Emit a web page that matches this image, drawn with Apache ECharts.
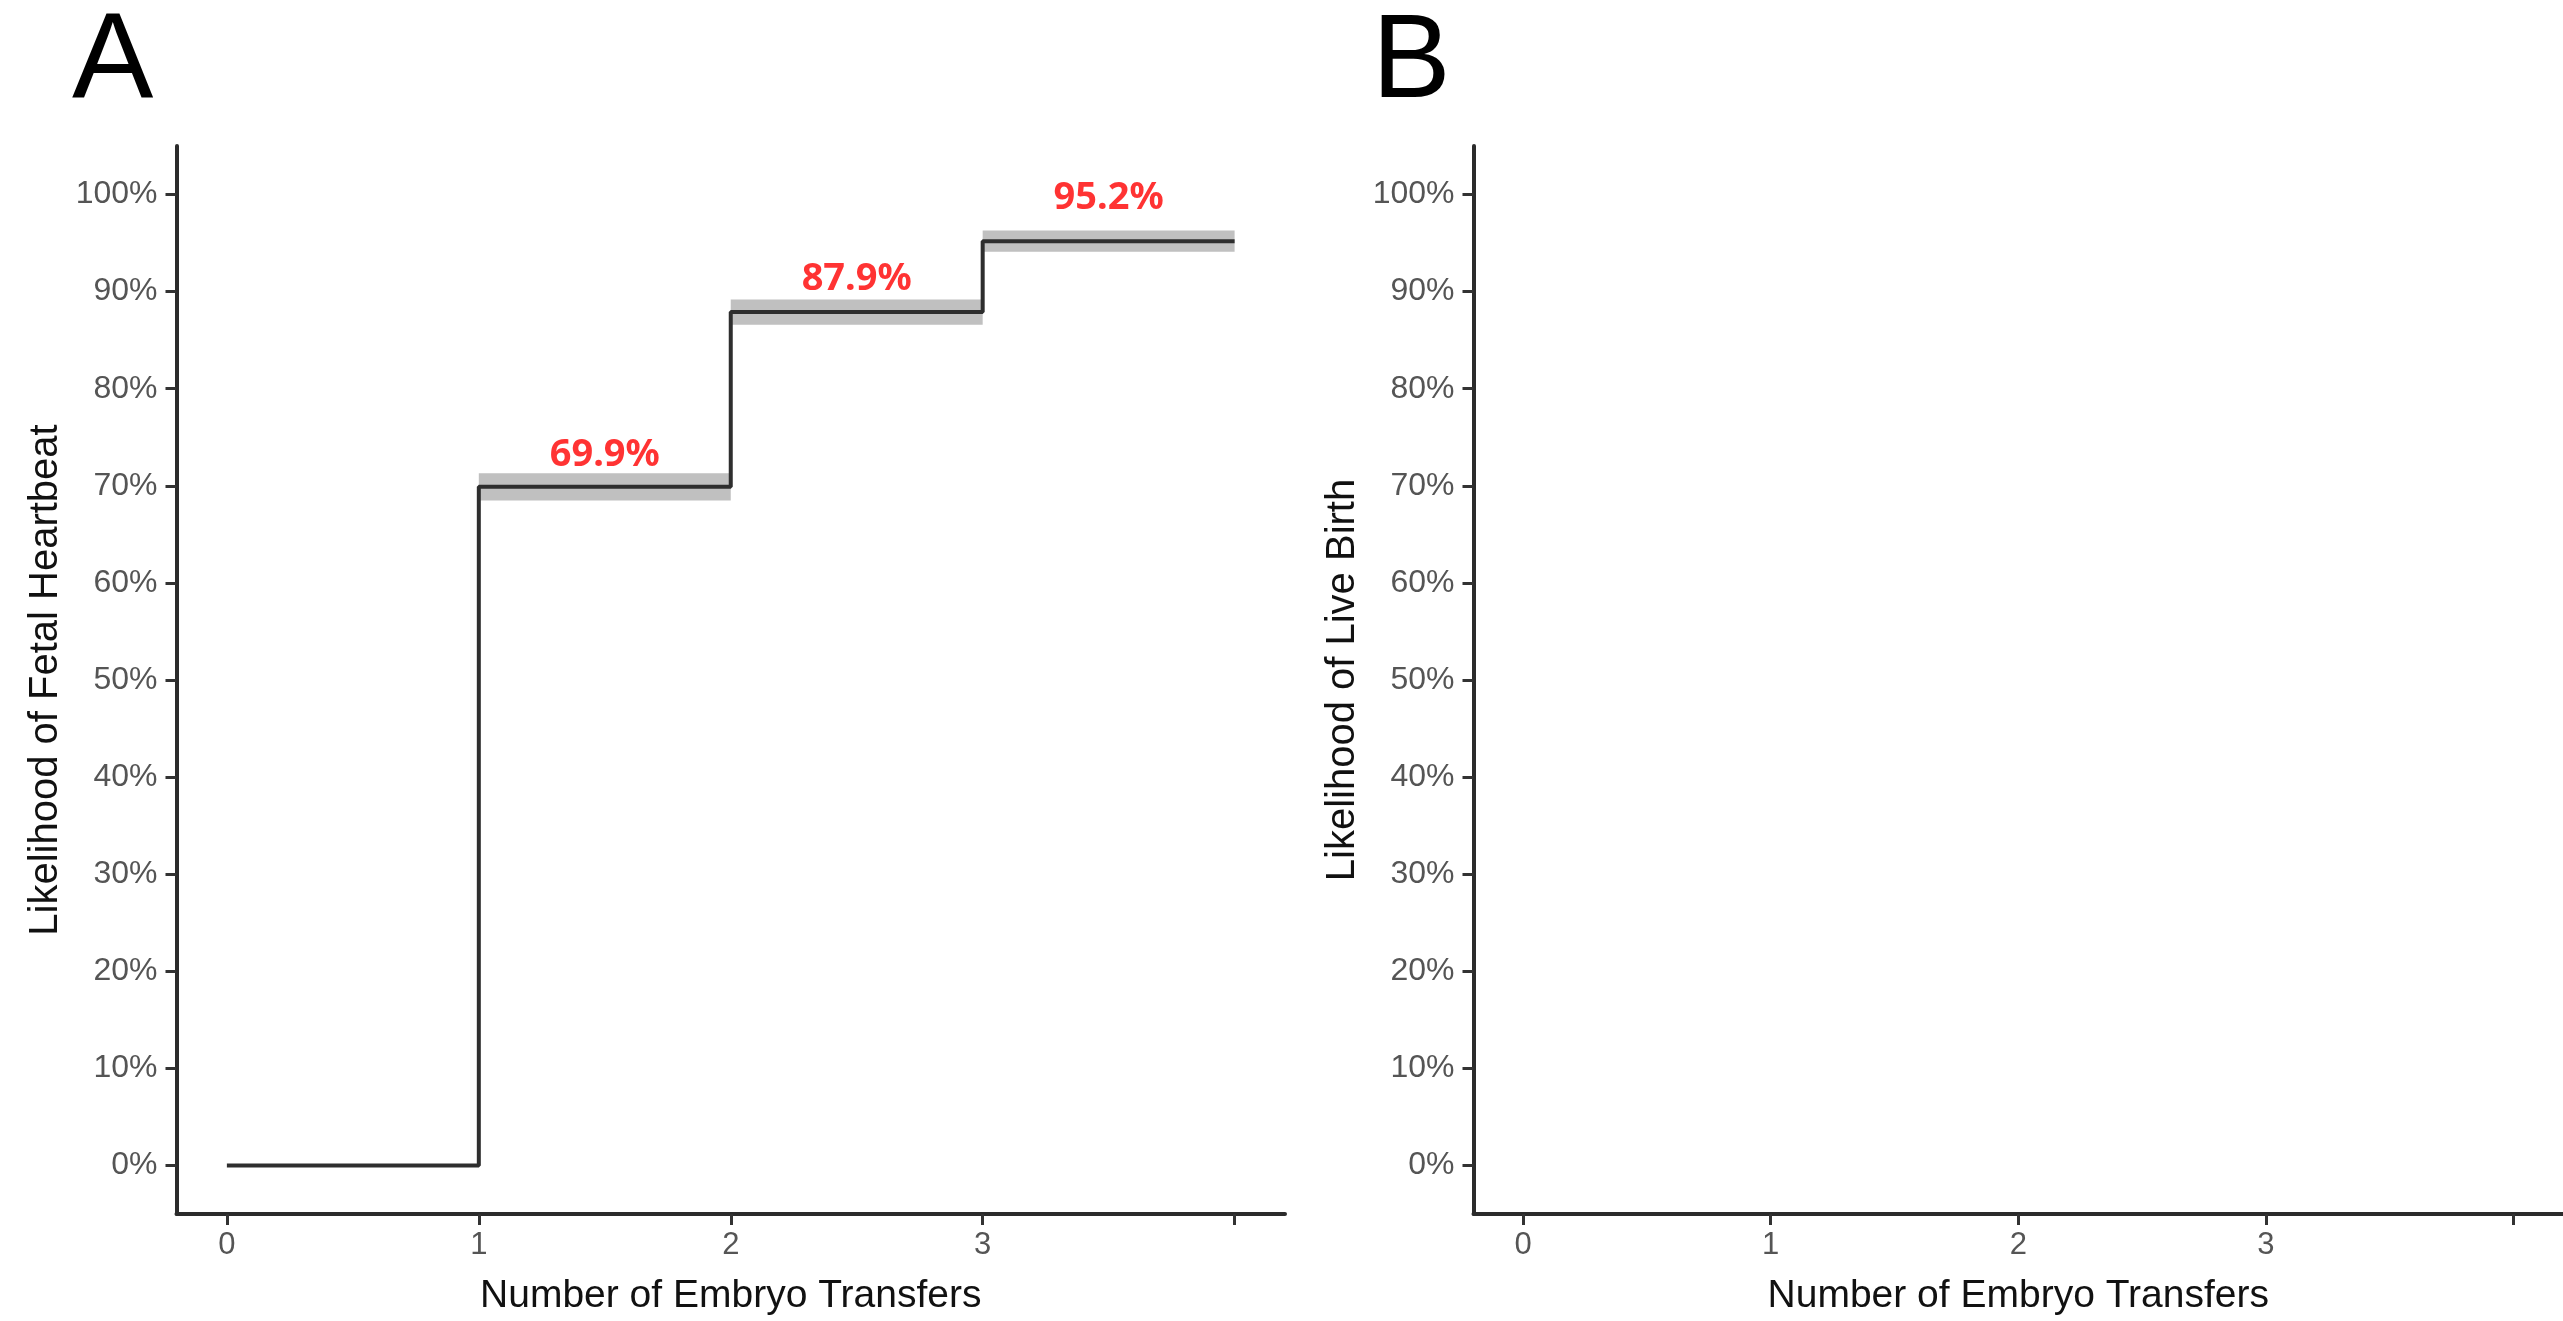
<!DOCTYPE html>
<html>
<head>
<meta charset="UTF-8">
<title>Embryo transfers</title>
<script src="https://cdn.jsdelivr.net/npm/echarts@6/dist/echarts.min.js"></script>
<style>
  html, body { margin: 0; padding: 0; background: #fff; }
  #main { width: 2563px; height: 1321px; }
</style>
</head>
<body>
<div id="main"></div>
<script>
// transfers on the x axis, cumulative likelihood (%) of fetal heartbeat
var transfers = [0, 1, 2, 3, 4];
var heartbeat = [0, 69.9, 87.9, 95.2, 95.2];
// grey band half-widths around each step
var bandHalf = [0, 1.4, 1.3, 1.1, 1.1];
// red annotations: x centre, y position, text
var noteX = [1.5, 2.5, 3.5];
var noteY = [73.2, 91.3, 99.6];
var noteText = ['69.9%', '87.9%', '95.2%'];
var xTicks = [0, 1, 2, 3, 4];
var xLabels = [0, 1, 2, 3];
var yTicks = [0, 10, 20, 30, 40, 50, 60, 70, 80, 90, 100];

var chart = echarts.init(document.getElementById('main'));

var bands = [];
for (var i = 1; i < transfers.length - 1; i++) {
  bands.push([transfers[i], transfers[i + 1], heartbeat[i] - bandHalf[i], heartbeat[i] + bandHalf[i]]);
}
var notes = noteX.map(function (x, i) { return [x, noteY[i], noteText[i]]; });

var axisFont = 'Liberation Sans';

function makeX(idx) {
  return {
    type: 'value', gridIndex: idx, min: -0.2, max: 4.2,
    name: 'Number of Embryo Transfers', nameLocation: 'middle', nameGap: 63,
    nameTextStyle: { fontFamily: axisFont, fontSize: 39, color: '#111' },
    axisLine: { show: true, onZero: false, lineStyle: { color: '#2b2b2b', width: 4 } },
    axisTick: { show: true, length: 11, customValues: xTicks, lineStyle: { color: '#333', width: 3 } },
    axisLabel: { customValues: xLabels, margin: 16, fontFamily: axisFont, fontSize: 31, color: '#555' },
    splitLine: { show: false }
  };
}
function makeY(idx, title) {
  return {
    type: 'value', gridIndex: idx, min: -5, max: 105,
    name: title, nameLocation: 'middle', nameGap: 111,
    nameTextStyle: { fontFamily: axisFont, fontSize: 40, color: '#111' },
    axisLine: { show: true, onZero: false, lineStyle: { color: '#2b2b2b', width: 4 } },
    axisTick: { show: true, length: 11, customValues: yTicks, lineStyle: { color: '#333', width: 3 } },
    axisLabel: { customValues: yTicks, margin: 19, fontFamily: axisFont, fontSize: 32, color: '#555',
      formatter: function (v) { return v + '%'; } },
    splitLine: { show: false }
  };
}

var option = {
  backgroundColor: '#fff',
  animation: false,
  grid: [
    { left: 176.5, top: 146, width: 1108.5, height: 1073 },
    { left: 1473.5, top: 146, width: 1108.5, height: 1073 }
  ],
  xAxis: [makeX(0), makeX(1)],
  yAxis: [
    makeY(0, 'Likelihood of Fetal Heartbeat'),
    makeY(1, 'Likelihood of Live Birth')
  ],
  graphic: [
    { type: 'text', left: 72, top: 3, style: { text: 'A', fontFamily: axisFont, fontSize: 122, fill: '#000' } },
    { type: 'text', left: 1372, top: 5, style: { text: 'B', fontFamily: axisFont, fontSize: 118, fill: '#000' } }
  ],
  series: [
    {
      type: 'custom', xAxisIndex: 0, yAxisIndex: 0, silent: true,
      data: bands,
      renderItem: function (params, api) {
        var p0 = api.coord([api.value(0), api.value(3)]);
        var p1 = api.coord([api.value(1), api.value(2)]);
        return { type: 'rect', shape: { x: p0[0], y: p0[1], width: p1[0] - p0[0], height: p1[1] - p0[1] },
          style: { fill: 'rgba(140,140,140,0.55)' } };
      }
    },
    {
      type: 'line', xAxisIndex: 0, yAxisIndex: 0, step: 'end', symbol: 'none',
      data: transfers.map(function (x, i) { return [x, heartbeat[i]]; }),
      lineStyle: { color: '#2e2e2e', width: 4 }
    },
    {
      type: 'scatter', xAxisIndex: 0, yAxisIndex: 0, symbolSize: 0,
      data: notes,
      label: { show: true, position: 'inside', formatter: function (p) { return p.data[2]; },
        fontFamily: 'Noto Sans', fontWeight: 'bold', fontSize: 38, color: '#ff0000' }
    },
    { type: 'line', xAxisIndex: 1, yAxisIndex: 1, data: [] }
  ]
};
chart.setOption(option);
</script>
</body>
</html>
